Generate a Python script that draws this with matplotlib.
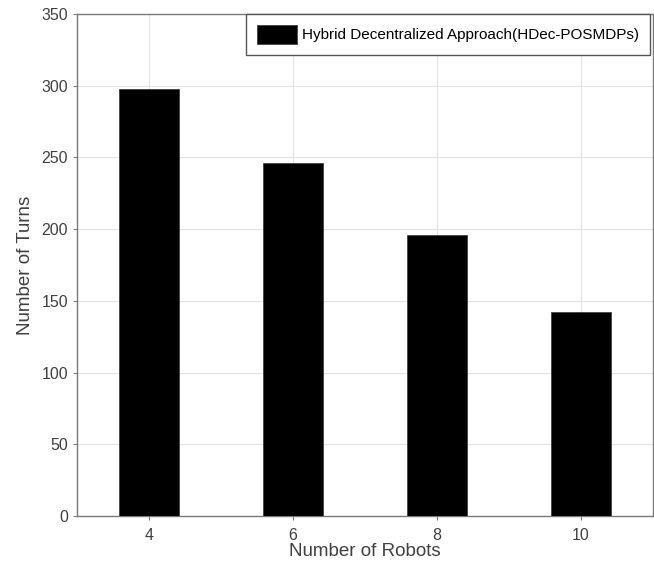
import numpy as np
import matplotlib.pyplot as plt

robots = [4, 6, 8, 10]
turns = [298, 246, 196, 142]
legend_label = "Hybrid Decentralized Approach(HDec-POSMDPs)"

plt.rcParams['font.family'] = ['Liberation Sans', 'DejaVu Sans']

fig = plt.figure(figsize=(6.54, 5.63), dpi=100)
ax = fig.add_axes([77/654, 47/563, 576/654, 502/563])

ax.bar(robots, turns, width=0.82, color='black', edgecolor='#404040',
       linewidth=0.6, label=legend_label, zorder=3)

ax.set_xlim(3, 11)
ax.set_ylim(0, 350)
ax.set_xticks(robots)
ax.set_yticks(np.arange(0, 351, 50))
ax.grid(True, color='#e3e3e3', linewidth=0.8, zorder=0)

for s in ax.spines.values():
    s.set_color('#7a7a7a')
    s.set_linewidth(1.0)
ax.tick_params(direction='out', length=3, width=0.8, colors='#7a7a7a',
               labelcolor='#404040', labelsize=11.5)
ax.tick_params(axis='x', pad=6)

ax.set_xlabel("Number of Robots", fontsize=13.5, color='#404040', labelpad=0)
ax.set_ylabel("Number of Turns", fontsize=13.5, color='#404040', labelpad=5)

leg = ax.legend(loc='upper right', fontsize=11, frameon=True, fancybox=False,
                borderaxespad=0, handlelength=2.6, handleheight=1.55,
                borderpad=0.7, handletextpad=0.35, bbox_to_anchor=(0.994, 1.0))
leg.get_frame().set_edgecolor('#555555')
leg.get_frame().set_linewidth(1.0)
leg.get_frame().set_alpha(1)

fig.savefig("out.png", dpi=100)
